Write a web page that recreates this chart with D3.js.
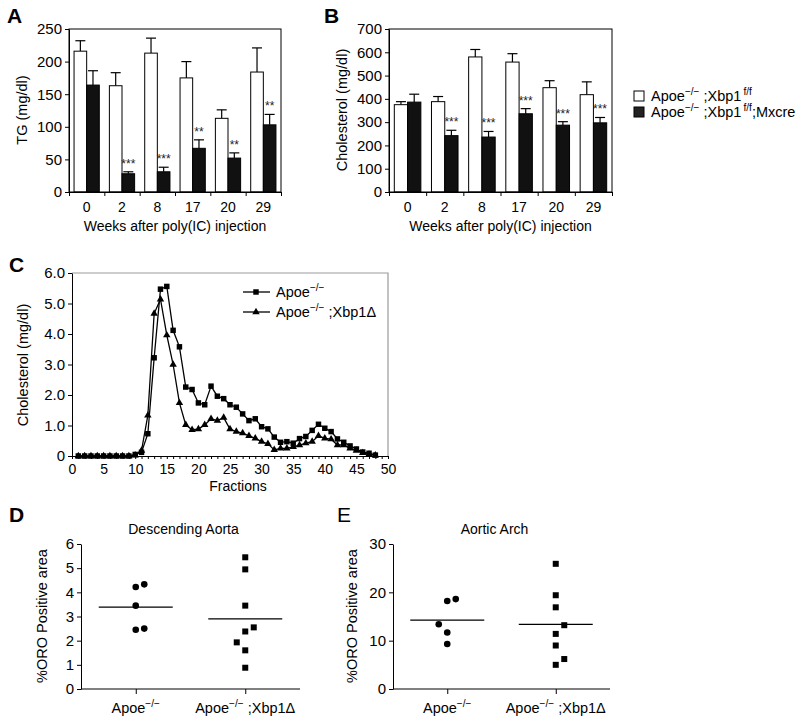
<!DOCTYPE html>
<html>
<head>
<meta charset="utf-8">
<script src="https://cdn.jsdelivr.net/npm/d3@7"></script>
<style>
  body { margin: 0; background: #fff; }
  svg { font-family: "Liberation Sans", Arial, sans-serif; }
  .axis path, .axis line { stroke: #000; }
  .axis text { font-size: 15px; fill: #000; font-family: "Liberation Sans", Arial, sans-serif; }
  .axis.small text { font-size: 14px; }
</style>
</head>
<body>
<svg id="fig" width="800" height="724"></svg>
<script>
// --- data ---

// panels A and B: weeks after poly(IC)
var weeks = ["0", "2", "8", "17", "20", "29"];
var series = ["ctrl", "ko"];

var tgCtrl    = [216, 163, 213, 175, 113, 184];
var tgCtrlErr = [16, 20, 23, 25, 13, 37];
var tgKo      = [164, 28, 31, 67, 52, 103];
var tgKoErr   = [22, 3, 7, 13, 8, 16];
var tgStars   = ["", "***", "***", "**", "**", "**"];

var cholCtrl    = [375, 388, 580, 558, 448, 418];
var cholCtrlErr = [13, 22, 32, 36, 30, 55];
var cholKo      = [386, 242, 236, 336, 287, 297];
var cholKoErr   = [34, 23, 24, 22, 15, 23];
var cholStars   = ["", "***", "***", "***", "***", "***"];

// panel C: FPLC fractions
var fractions = d3.range(1, 49);
var fplcApoe = [0, 0, 0, 0, 0, 0, 0, 0, 0, 0.05, 0.12, 0.73, 3.22, 5.47, 5.56, 4.12, 3.58, 2.26, 2.18, 1.74,
                1.68, 2.29, 1.96, 1.88, 1.68, 1.60, 1.38, 1.16, 1.22, 0.96, 0.89, 0.62, 0.45, 0.47, 0.42, 0.57,
                0.64, 0.84, 1.04, 0.91, 0.80, 0.56, 0.45, 0.33, 0.23, 0.13, 0.09, 0.03];
var fplcXbp = [0, 0, 0, 0, 0, 0, 0, 0, 0, 0.02, 0.18, 1.33, 4.67, 5.14, 3.96, 3.00, 1.74, 1.02, 0.86, 0.88,
               1.02, 1.22, 1.16, 1.26, 0.88, 0.80, 0.75, 0.66, 0.58, 0.47, 0.40, 0.20, 0.25, 0.25, 0.30, 0.36,
               0.42, 0.47, 0.66, 0.58, 0.55, 0.36, 0.36, 0.25, 0.18, 0.10, 0.05, 0.02];

// panels D and E: %ORO positive area (col = side-by-side slot for overlapping dots)
var groups = ["apoe", "xbp"];
var descApoe = [4.22, 4.33, 3.45, 2.45, 2.50];
var descApoeCol = [0, 1, 0, 0, 1];
var descXbp = [5.45, 4.95, 3.45, 2.55, 2.38, 1.93, 1.60, 0.88];
var descXbpCol = [0, 0, 0, 1, 0, -1, 0, 0];
var archApoe = [18.2, 18.6, 13.4, 11.7, 9.3];
var archApoeCol = [0, 1, -1, 0, 0];
var archXbp = [25.9, 19.4, 16.9, 13.2, 11.4, 9.0, 6.2, 5.0];
var archXbpCol = [0, 0, 0, 1, 0, 0, 1, 0];

// --- drawing ---
var svg = d3.select("#fig");

// text with superscripts: parts = [[text, isSup], ...]
function rich(sel, parts, size) {
  var up = false;
  parts.forEach(function(p) {
    var t = sel.append("tspan").text(p[0]);
    if (p[1]) {
      t.attr("font-size", size * 0.7).attr("dy", up ? 0 : -size * 0.42);
      up = true;
    } else {
      t.attr("font-size", size).attr("dy", up ? size * 0.42 : 0);
      up = false;
    }
  });
  return sel;
}

function panelLetter(letter, x, y, bold) {
  svg.append("text").attr("x", x).attr("y", y)
    .attr("font-size", 21).attr("font-weight", bold ? "bold" : "normal")
    .text(letter);
}

function yTitle(label, x, y) {
  svg.append("text").attr("transform", "translate(" + x + "," + y + ") rotate(-90)")
    .attr("text-anchor", "middle").attr("font-size", 14.5).text(label);
}

var apoe = [["Apoe", false], ["\u2212/\u2212", true]];

// bar panels A and B
function barPanel(box, maxY, step, ctrl, ctrlErr, ko, koErr, stars) {
  var x0 = d3.scaleBand().domain(weeks).range([box.left, box.right]);
  var x1 = d3.scaleBand().domain(series).range([0, x0.bandwidth()]).paddingOuter(0.4);
  var y = d3.scaleLinear().domain([0, maxY]).range([box.bottom, box.top]);

  var rows = weeks.map(function(w, i) {
    return [
      { week: w, s: "ctrl", v: ctrl[i], e: ctrlErr[i], star: "" },
      { week: w, s: "ko", v: ko[i], e: koErr[i], star: stars[i] }
    ];
  });
  var flat = [].concat.apply([], rows);
  var cx = function(d) { return x0(d.week) + x1(d.s) + x1.bandwidth() / 2; };

  var g = svg.append("g");
  // error bars (upward only)
  var eb = g.selectAll(".eb").data(flat).enter().append("g");
  eb.append("line")
    .attr("x1", cx).attr("x2", cx)
    .attr("y1", function(d) { return y(d.v); })
    .attr("y2", function(d) { return y(d.v + d.e); })
    .attr("stroke", "#000").attr("stroke-width", 1.2);
  eb.append("line")
    .attr("x1", function(d) { return cx(d) - 5; })
    .attr("x2", function(d) { return cx(d) + 5; })
    .attr("y1", function(d) { return y(d.v + d.e); })
    .attr("y2", function(d) { return y(d.v + d.e); })
    .attr("stroke", "#000").attr("stroke-width", 1.2);

  g.selectAll("rect.bar").data(flat).enter().append("rect")
    .attr("class", "bar")
    .attr("x", function(d) { return x0(d.week) + x1(d.s); })
    .attr("width", x1.bandwidth())
    .attr("y", function(d) { return y(d.v); })
    .attr("height", function(d) { return y(0) - y(d.v); })
    .attr("fill", function(d) { return d.s === "ctrl" ? "#fff" : "#111"; })
    .attr("stroke", "#000").attr("stroke-width", 1);

  g.selectAll("text.star").data(flat.filter(function(d) { return d.star; })).enter().append("text")
    .attr("class", "star")
    .attr("x", cx)
    .attr("y", function(d) { return y(d.v + d.e) - 4; })
    .attr("text-anchor", "middle").attr("font-size", 12).attr("fill", "#222")
    .text(function(d) { return d.star; });

  // frame
  svg.append("rect").attr("x", box.left).attr("y", box.top)
    .attr("width", box.right - box.left).attr("height", box.bottom - box.top)
    .attr("fill", "none").attr("stroke", "#000").attr("stroke-width", 1);

  svg.append("g").attr("class", "axis").attr("transform", "translate(" + box.left + ",0)")
    .call(d3.axisLeft(y).tickValues(d3.range(0, maxY + 1, step)).tickSize(4).tickSizeOuter(0).tickPadding(3));

  // boundary ticks, then labels centred in each group
  var edges = d3.scaleLinear().domain([0, weeks.length]).range([box.left, box.right]);
  svg.append("g").attr("class", "axis").attr("transform", "translate(0," + box.bottom + ")")
    .call(d3.axisBottom(edges).ticks(weeks.length).tickFormat("").tickSize(4).tickSizeOuter(0));
  var lab = svg.append("g").attr("class", "axis small").attr("transform", "translate(0," + box.bottom + ")")
    .call(d3.axisBottom(x0).tickSize(0).tickPadding(10));
  lab.select(".domain").remove();

  svg.append("text").attr("x", (box.left + box.right) / 2).attr("y", box.bottom + 39)
    .attr("text-anchor", "middle").attr("font-size", 14)
    .text("Weeks after poly(IC) injection");
}

var boxA = { left: 69, right: 281, top: 29, bottom: 192 };
var boxB = { left: 389, right: 612, top: 29, bottom: 192 };
barPanel(boxA, 250, 50, tgCtrl, tgCtrlErr, tgKo, tgKoErr, tgStars);
barPanel(boxB, 700, 100, cholCtrl, cholCtrlErr, cholKo, cholKoErr, cholStars);
panelLetter("A", 7, 23, true);
panelLetter("B", 324, 23, true);
yTitle("TG (mg/dl)", 27, 110);
yTitle("Cholesterol (mg/dl)", 347, 110);

// legend A/B
var legAB = [
  { fill: "#fff", parts: apoe.concat([[" ;Xbp1", false], ["\u2009f/f", true]]) },
  { fill: "#222", parts: apoe.concat([[" ;Xbp1", false], ["\u2009f/f", true], [";Mxcre", false]]) }
];
legAB.forEach(function(d, i) {
  var cy = 96 + i * 16;
  svg.append("rect").attr("x", 634).attr("y", cy - 5).attr("width", 10).attr("height", 10)
    .attr("fill", d.fill).attr("stroke", "#000").attr("stroke-width", 1);
  rich(svg.append("text").attr("x", 651).attr("y", cy + 5), d.parts, 14.5);
});

// panel C
var boxC = { left: 72, right: 388, top: 273, bottom: 456 };
var xc = d3.scaleLinear().domain([0, 50]).range([boxC.left, boxC.right]);
var yc = d3.scaleLinear().domain([0, 6]).range([boxC.bottom, boxC.top]);

svg.append("path")
  .attr("d", "M" + boxC.left + "," + boxC.top + "H" + boxC.right + "V" + boxC.bottom)
  .attr("fill", "none").attr("stroke", "#999").attr("stroke-width", 1.2);

svg.append("g").attr("class", "axis").attr("transform", "translate(" + boxC.left + ",0)")
  .call(d3.axisLeft(yc).ticks(6).tickSize(4).tickSizeOuter(0).tickPadding(3)
    .tickFormat(function(d) { return d === 0 ? "0" : d.toFixed(1); }));
svg.append("g").attr("class", "axis small").attr("transform", "translate(0," + boxC.bottom + ")")
  .call(d3.axisBottom(xc).tickValues(d3.range(0, 51)).tickSize(3).tickSizeOuter(0).tickPadding(5)
    .tickFormat(function(d) { return d % 5 === 0 ? d : ""; }));

var lineC = d3.line().x(function(d) { return xc(d[0]); }).y(function(d) { return yc(d[1]); });
var sqSym = d3.symbol().type(d3.symbolSquare).size(30);
var triSym = d3.symbol().type(d3.symbolTriangle).size(24);

var cSeries = [
  { vals: fplcApoe, sym: sqSym },
  { vals: fplcXbp, sym: triSym }
];
cSeries.forEach(function(s) {
  var pts = fractions.map(function(f, i) { return [f, s.vals[i]]; });
  svg.append("path").attr("d", lineC(pts)).attr("fill", "none")
    .attr("stroke", "#000").attr("stroke-width", 1.3);
  svg.append("g").selectAll("path").data(pts).enter().append("path")
    .attr("transform", function(d) { return "translate(" + xc(d[0]) + "," + yc(d[1]) + ")"; })
    .attr("d", s.sym).attr("fill", "#000");
});

var legC = [
  { sym: sqSym, parts: apoe },
  { sym: triSym, parts: apoe.concat([[" ;Xbp1\u0394", false]]) }
];
legC.forEach(function(d, i) {
  var cy = 292 + i * 20;
  svg.append("line").attr("x1", 243).attr("x2", 270).attr("y1", cy).attr("y2", cy)
    .attr("stroke", "#000").attr("stroke-width", 1.3);
  svg.append("path").attr("transform", "translate(256," + cy + ")").attr("d", d.sym).attr("fill", "#000");
  rich(svg.append("text").attr("x", 276).attr("y", cy + 5), d.parts, 14.5);
});

panelLetter("C", 9, 272, true);
yTitle("Cholesterol (mg/dl)", 28, 365);
svg.append("text").attr("x", 238).attr("y", 491).attr("text-anchor", "middle")
  .attr("font-size", 14).text("Fractions");

// panels D and E
function dotPanel(box, maxY, step, title, a, aCol, b, bCol) {
  var x = d3.scalePoint().domain(groups).range([box.left, box.right]).padding(0.5);
  var y = d3.scaleLinear().domain([0, maxY]).range([box.bottom, box.top]);
  var jit = 8.5, half = 37;

  svg.append("g").attr("class", "axis").attr("transform", "translate(" + box.left + ",0)")
    .call(d3.axisLeft(y).tickValues(d3.range(0, maxY + 0.001, step)).tickSize(4).tickSizeOuter(0)
      .tickPadding(3).tickFormat(d3.format("d")));
  var xa = svg.append("g").attr("class", "axis").attr("transform", "translate(0," + box.bottom + ")")
    .call(d3.axisBottom(x).tickSize(5).tickSizeOuter(0).tickFormat(""));
  xa.select(".domain").attr("d", "M" + box.left + ",0H" + box.right);

  var labels = [apoe, apoe.concat([[" ;Xbp1\u0394", false]])];
  groups.forEach(function(gname, i) {
    rich(svg.append("text").attr("x", x(gname)).attr("y", box.bottom + 24).attr("text-anchor", "middle"),
      labels[i], 14.5);
  });

  var sets = [
    { g: "apoe", vals: a, cols: aCol, circle: true },
    { g: "xbp", vals: b, cols: bCol, circle: false }
  ];
  sets.forEach(function(s) {
    var pts = s.vals.map(function(v, i) { return { v: v, c: s.cols[i] }; });
    var sel = svg.append("g").selectAll("*").data(pts).enter();
    if (s.circle) {
      sel.append("circle")
        .attr("cx", function(d) { return x(s.g) + d.c * jit; })
        .attr("cy", function(d) { return y(d.v); })
        .attr("r", 3.3).attr("fill", "#000");
    } else {
      sel.append("rect")
        .attr("x", function(d) { return x(s.g) + d.c * jit - 3; })
        .attr("y", function(d) { return y(d.v) - 3; })
        .attr("width", 6).attr("height", 6).attr("fill", "#000");
    }
    var m = d3.mean(s.vals);
    svg.append("line").attr("x1", x(s.g) - half).attr("x2", x(s.g) + half)
      .attr("y1", y(m)).attr("y2", y(m)).attr("stroke", "#000").attr("stroke-width", 1.2);
  });

  svg.append("text").attr("x", (box.left + box.right) / 2 - 7).attr("y", box.top - 10)
    .attr("text-anchor", "middle").attr("font-size", 14).text(title);
}

var boxD = { left: 81, right: 300, top: 544, bottom: 689 };
var boxE = { left: 393, right: 610, top: 544, bottom: 689 };
dotPanel(boxD, 6, 1, "Descending Aorta", descApoe, descApoeCol, descXbp, descXbpCol);
dotPanel(boxE, 30, 10, "Aortic Arch", archApoe, archApoeCol, archXbp, archXbpCol);
panelLetter("D", 9, 522, true);
panelLetter("E", 337, 522, false);
yTitle("%ORO Positive area", 47, 616);
yTitle("%ORO Positive area", 357, 616);
</script>
</body>
</html>
